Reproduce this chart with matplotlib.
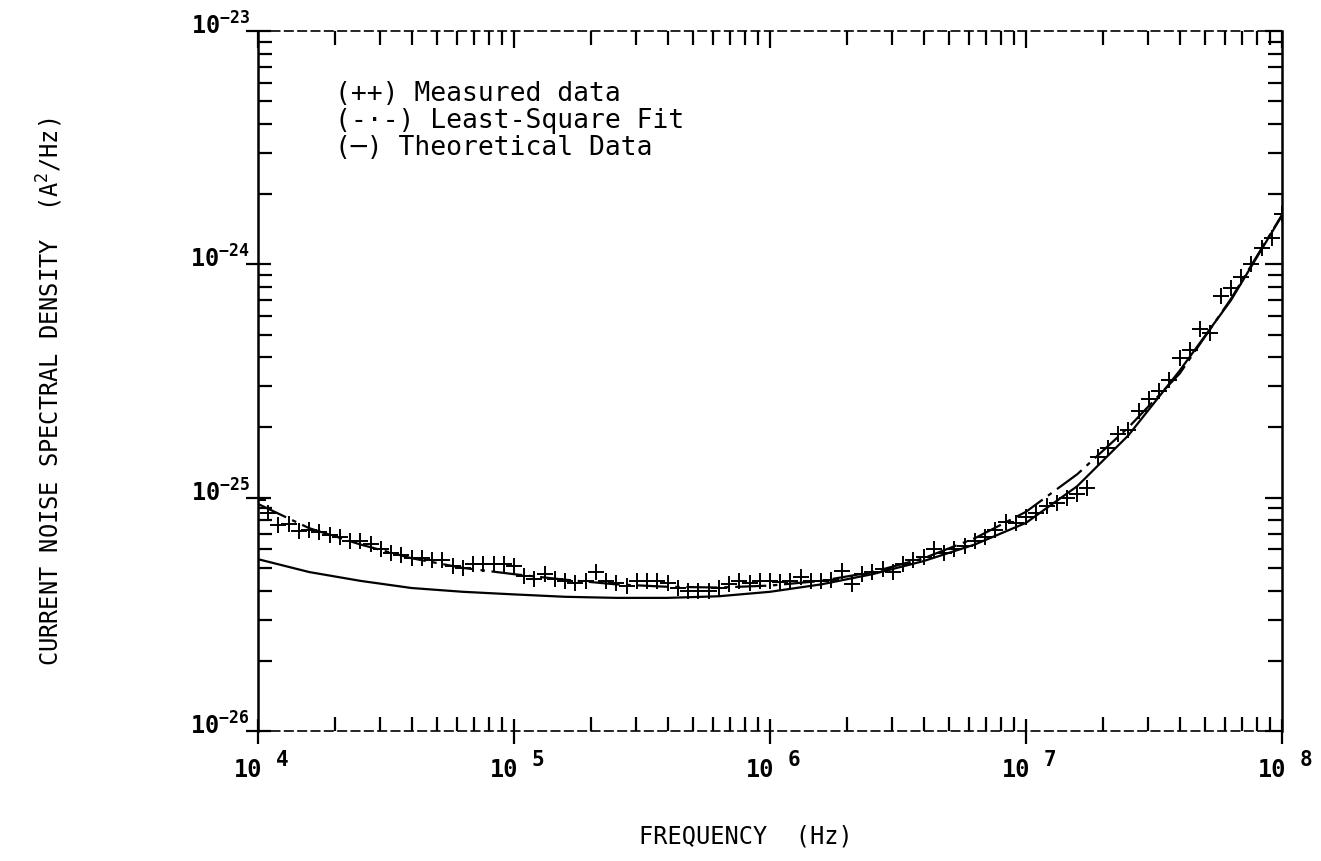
import matplotlib
matplotlib.use("Agg")
import matplotlib.pyplot as plt
import matplotlib.transforms as mtransforms
import numpy as np

# measured sweep: 25 points per decade, 10 kHz .. 100 MHz
freq = np.logspace(4, 8, 101)
measured = np.array([
    9.8, 8.6, 7.6, 7.7, 7.2, 7.3, 7.1, 6.9, 6.8, 6.5, 6.5, 6.3, 6.0,
    5.8, 5.7, 5.5, 5.5, 5.4, 5.4, 5.1, 5.0, 5.2, 5.2, 5.2, 5.2, 5.1,
    4.6, 4.5, 4.7, 4.5, 4.4, 4.3, 4.4, 4.8, 4.4, 4.3, 4.2, 4.4, 4.4,
    4.4, 4.3, 4.1, 4.0, 4.0, 4.0, 4.1, 4.25, 4.4, 4.3, 4.4, 4.4,
    4.35, 4.4, 4.55, 4.4, 4.4, 4.45, 4.85, 4.25, 4.7, 4.8, 4.95, 4.8,
    5.2, 5.4, 5.55, 6.0, 5.8, 6.0, 6.2, 6.5, 6.8, 7.3, 7.9, 7.8, 8.3,
    8.6, 9.2, 9.5, 10.0, 10.4, 11.0, 14.9, 16.4, 18.7, 19.5, 23.5,
    26.5, 28.7, 32.0, 39.8, 43.0, 53.0, 51.0, 73.0, 79.0, 88.0, 100.0,
    118.0, 130.0, 164.0,
]) * 1e-26

# least-square fit and theoretical curve, 5 points per decade
curve_freq = np.logspace(4, 8, 21)
fit = np.array([
    9.4, 7.4, 6.3, 5.5, 5.0, 4.7, 4.45, 4.25, 4.15, 4.12, 4.2,
    4.4, 4.8, 5.5, 6.7, 8.7, 12.6, 20.0, 34.0, 71.0, 163.0,
]) * 1e-26
theory = np.array([
    5.45, 4.8, 4.4, 4.1, 3.95, 3.85, 3.76, 3.72, 3.72, 3.78, 3.95,
    4.25, 4.7, 5.35, 6.3, 7.8, 11.2, 18.5, 35.0, 70.0, 162.0,
]) * 1e-26

x_decades = [4, 5, 6, 7, 8]
y_decades = [-26, -25, -24, -23]
legend_lines = ["(++) Measured data",
                "(-\u00b7-) Least-Square Fit",
                "(\u2500) Theoretical Data"]

plt.rcParams['mathtext.fontset'] = 'custom'
plt.rcParams['mathtext.rm'] = 'DejaVu Sans Mono'
plt.rcParams['mathtext.bf'] = 'DejaVu Sans Mono:bold'

fig = plt.figure(figsize=(13.21, 8.62), dpi=100)
ax = fig.add_axes([0.1953, 0.1508, 0.7752, 0.8121])

ax.plot(freq, measured, linestyle='none', marker='+', markersize=11,
        markeredgewidth=1.4, color='black')
ax.plot(curve_freq, fit, color='black', linewidth=1.6,
        linestyle=(0, (14, 3, 2, 3)))
ax.plot(curve_freq, theory, color='black', linewidth=1.6)

ax.set_xscale('log')
ax.set_yscale('log')
ax.set_xlim(1e4, 1e8)
ax.set_ylim(1e-26, 1e-23)

# plotter-style frame: solid sides, broken top and bottom
for side in ['left', 'right']:
    ax.spines[side].set_linewidth(1.8)
for side in ['top', 'bottom']:
    ax.spines[side].set_linewidth(1.2)
    ax.spines[side].set_linestyle((0, (5, 3)))

# bottom and left ticks cross the frame, minor ones point inward
ax.tick_params(which='both', width=1.6, color='black',
               labelbottom=False, labelleft=False)
ax.tick_params(which='major', direction='inout', length=18)
ax.tick_params(which='minor', direction='in', length=10)

# top and right ticks only point inward
top = ax.secondary_xaxis('top')
right = ax.secondary_yaxis('right')
for sec in (top, right):
    for sp in sec.spines.values():
        sp.set_visible(False)
    sec.tick_params(which='both', direction='in', width=1.6, color='black')
    sec.tick_params(which='major', length=12)
    sec.tick_params(which='minor', length=10)
top.tick_params(labeltop=False)
right.tick_params(labelright=False)

# tick labels drawn by hand: "10" with a detached exponent
bx = mtransforms.blended_transform_factory(ax.transData, ax.transAxes)
for e in x_decades:
    ax.annotate('10', xy=(10.0 ** e, 0), xycoords=bx,
                xytext=(-10, -38), textcoords='offset pixels',
                ha='center', va='center', fontsize=17, fontweight='bold',
                family='DejaVu Sans Mono')
    ax.annotate(str(e), xy=(10.0 ** e, 0), xycoords=bx,
                xytext=(24, -28), textcoords='offset pixels',
                ha='center', va='center', fontsize=15, fontweight='bold',
                family='DejaVu Sans Mono')

by = mtransforms.blended_transform_factory(ax.transAxes, ax.transData)
for e in y_decades:
    ax.annotate(r'$\mathbf{10}^{\mathbf{%d}}$' % e, xy=(0, 10.0 ** e),
                xycoords=by, xytext=(-8, 6), textcoords='offset pixels',
                ha='right', va='center', fontsize=17)

fig.text(0.5643, 0.016, 'FREQUENCY  (Hz)', ha='center', va='bottom',
         fontsize=17, family='DejaVu Sans Mono')
fig.text(0.038, 0.545, 'CURRENT NOISE SPECTRAL DENSITY  (A$^{2}$/Hz)',
         rotation=90, ha='center', va='center', fontsize=17,
         family='DejaVu Sans Mono')

for i, line in enumerate(legend_lines):
    ax.text(0.075, 0.912 - i * 0.039, line, transform=ax.transAxes,
            ha='left', va='center', fontsize=19, family='DejaVu Sans Mono')

fig.savefig('out.png', dpi=100)
plt.close(fig)
